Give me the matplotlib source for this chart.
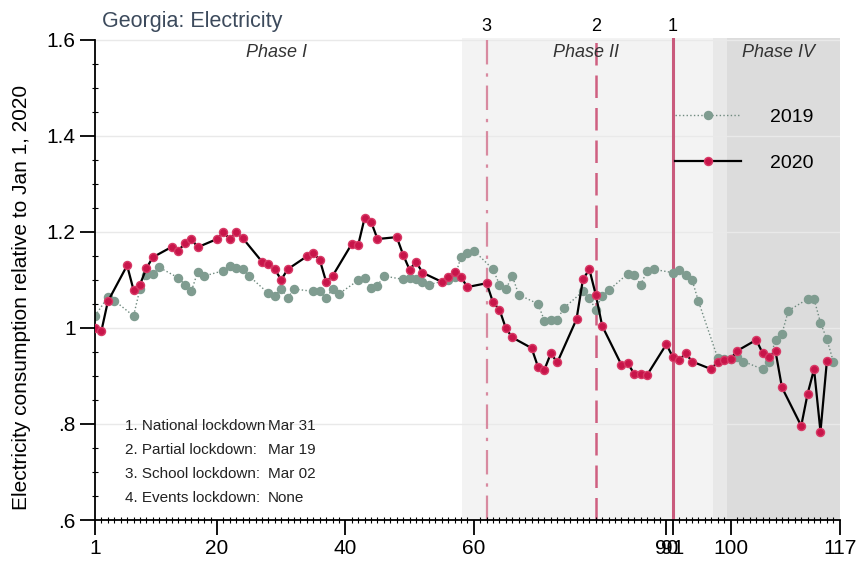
import numpy as np
import matplotlib
matplotlib.use("Agg")
import matplotlib.pyplot as plt
from matplotlib.ticker import MultipleLocator

plt.rcParams['font.family'] = ['Liberation Sans', 'DejaVu Sans']

# day of year (weekdays only) and consumption relative to Jan 1, 2020
days_2020 = [1, 2, 3, 6, 7, 8, 9, 10, 13, 14, 15, 16, 17, 20, 21, 22, 23, 24,
             27, 28, 29, 30, 31, 34, 35, 36, 37, 38, 41, 42, 43, 44, 45,
             48, 49, 50, 51, 52, 55, 56, 57, 58, 59, 62, 63, 64, 65, 66,
             69, 70, 71, 72, 73, 76, 77, 78, 79, 80, 83, 84, 85, 86, 87,
             90, 91, 92, 93, 94, 97, 98, 99, 100, 101, 104, 105, 106, 107, 108,
             111, 112, 113, 114, 115]
vals_2020 = [1.000, 0.994, 1.055, 1.130, 1.079, 1.090, 1.124, 1.147, 1.169, 1.161,
             1.176, 1.185, 1.168, 1.185, 1.199, 1.185, 1.199, 1.187,
             1.138, 1.133, 1.122, 1.100, 1.122, 1.149, 1.155, 1.142, 1.096, 1.108,
             1.175, 1.173, 1.229, 1.221, 1.185,
             1.189, 1.152, 1.121, 1.138, 1.115, 1.096, 1.106, 1.117, 1.106, 1.085,
             1.093, 1.053, 1.038, 0.999, 0.980,
             0.958, 0.919, 0.913, 0.947, 0.928, 1.018, 1.101, 1.122, 1.069, 1.004,
             0.923, 0.926, 0.904, 0.904, 0.902,
             0.966, 0.939, 0.933, 0.947, 0.930, 0.914, 0.930, 0.933, 0.935, 0.952,
             0.975, 0.947, 0.939, 0.951, 0.876,
             0.796, 0.863, 0.914, 0.784, 0.931]

days_2019 = [1, 3, 4, 7, 8, 9, 10, 11, 14, 15, 16, 17, 18, 21, 22, 23, 24, 25,
             28, 29, 30, 31, 32, 35, 36, 37, 38, 39, 42, 43, 44, 45, 46,
             49, 50, 51, 52, 53, 56, 57, 58, 59, 60, 63, 64, 65, 66, 67,
             70, 71, 72, 73, 74, 77, 78, 79, 80, 81, 84, 85, 86, 87, 88,
             91, 92, 93, 94, 95, 98, 99, 100, 101, 102, 105, 106, 107, 108, 109,
             112, 113, 114, 115, 116]
vals_2019 = [1.025, 1.064, 1.057, 1.025, 1.081, 1.110, 1.113, 1.126, 1.104, 1.090,
             1.076, 1.117, 1.108, 1.119, 1.128, 1.124, 1.123, 1.108,
             1.072, 1.067, 1.082, 1.062, 1.081, 1.076, 1.076, 1.062, 1.081, 1.071,
             1.099, 1.104, 1.083, 1.088, 1.108,
             1.101, 1.104, 1.101, 1.096, 1.090, 1.100, 1.105, 1.147, 1.155, 1.161,
             1.122, 1.090, 1.081, 1.108, 1.069,
             1.050, 1.015, 1.017, 1.017, 1.041, 1.076, 1.062, 1.038, 1.067, 1.078,
             1.113, 1.110, 1.090, 1.119, 1.122,
             1.115, 1.120, 1.110, 1.100, 1.055, 0.937, 0.935, 0.935, 0.940, 0.930,
             0.914, 0.930, 0.975, 0.988, 1.036,
             1.060, 1.060, 1.011, 0.976, 0.930]

# lockdown dates (day of year) and their numbers
lockdown_days = [91, 79, 62]
lockdown_nums = ["1", "2", "3"]
lockdown_text = ["1. National lockdown", "2. Partial lockdown:",
                 "3. School lockdown:", "4. Events lockdown:"]
lockdown_dates = ["Mar 31", "Mar 19", "Mar 02", "None"]

# phase shading: (start, end, colour), labels with position
phase_spans = [(58.1, 97.2, "#f3f3f3"), (97.2, 99.4, "#e8e8e8"), (99.4, 117, "#dcdcdc")]
phase_labels = ["Phase I", "Phase II", "Phase IV"]
phase_label_x = [29.3, 77.5, 107.5]

xticks = [1, 20, 40, 60, 90, 91, 100, 117]

fig = plt.figure(figsize=(8.56, 5.64), dpi=100)
ax = fig.add_axes([0.111, 0.078, 0.870, 0.855])

for x0, x1, c in phase_spans:
    ax.axvspan(x0, x1, color=c, lw=0, zorder=0)

for y in [0.8, 1.0, 1.2, 1.4, 1.6]:
    ax.axhline(y, color="#e9e9e9", lw=1.0, zorder=0.5)

# lockdown lines
ax.axvline(lockdown_days[0], color="#c95a7c", lw=2.2, zorder=1)
ax.axvline(lockdown_days[1], color="#cf5f80", lw=1.8, dashes=(9, 4), zorder=1)
ax.axvline(lockdown_days[2], color="#d88aa0", lw=1.6, dashes=(11, 4, 1.5, 4), zorder=1)

for d, n in zip(lockdown_days, lockdown_nums):
    ax.text(d, 1.006, n, transform=ax.get_xaxis_transform(), ha="center",
            va="bottom", fontsize=13, clip_on=False)

for lab, x in zip(phase_labels, phase_label_x):
    ax.text(x, 0.987, lab, transform=ax.get_xaxis_transform(), ha="center",
            va="top", fontsize=13, style="italic", color="#333333")

ax.plot(days_2019, vals_2019, ls=":", lw=1.0, color="#6f8a7f", marker="o",
        ms=5.8, mfc="#7f9c90", mec="#7f9c90", label="2019", zorder=2)
ax.plot(days_2020, vals_2020, ls="-", lw=1.6, color="black", marker="o",
        ms=5.8, mfc="#c8154a", mec="#d83a66", label="2020", zorder=3)

leg = ax.legend(loc="upper right", bbox_to_anchor=(0.988, 0.89), frameon=False,
                fontsize=14, handlelength=3.4, labelspacing=1.45, numpoints=1,
                handletextpad=1.5)

for i, (t, d) in enumerate(zip(lockdown_text, lockdown_dates)):
    ax.text(5.6, 0.796 - i * 0.05, t, fontsize=11, va="center", color="#222222")
    ax.text(27.9, 0.796 - i * 0.05, d, fontsize=11, va="center", color="#222222")

ax.text(0.009, 1.012, "Georgia: Electricity", transform=ax.transAxes,
        fontsize=15.5, color="#3c4a5c", va="bottom")

ax.set_xlim(1, 117)
ax.set_ylim(0.6, 1.604)
ax.set_xticks(xticks)
ax.set_xticklabels([str(x) for x in xticks])
ax.xaxis.set_minor_locator(MultipleLocator(1))
ax.set_yticks([0.6, 0.8, 1.0, 1.2, 1.4, 1.6])
ax.set_yticklabels([".6", ".8", "1", "1.2", "1.4", "1.6"])
ax.yaxis.set_minor_locator(MultipleLocator(0.05))
ax.tick_params(axis="both", which="major", length=11, width=1.3, labelsize=15, pad=3)
ax.tick_params(axis="x", which="minor", length=4, width=0.8, direction="inout")
ax.tick_params(axis="y", which="minor", length=4, width=0.8, direction="inout")
ax.set_ylabel("Electricity consumption relative to Jan 1, 2020", fontsize=15)
ax.yaxis.set_label_coords(-0.086, 0.462)

for s in ["top", "right"]:
    ax.spines[s].set_visible(False)
for s in ["left", "bottom"]:
    ax.spines[s].set_linewidth(1.3)
ax.spines["left"].set_bounds(0.6, 1.6)

fig.savefig("out.png", dpi=100)
